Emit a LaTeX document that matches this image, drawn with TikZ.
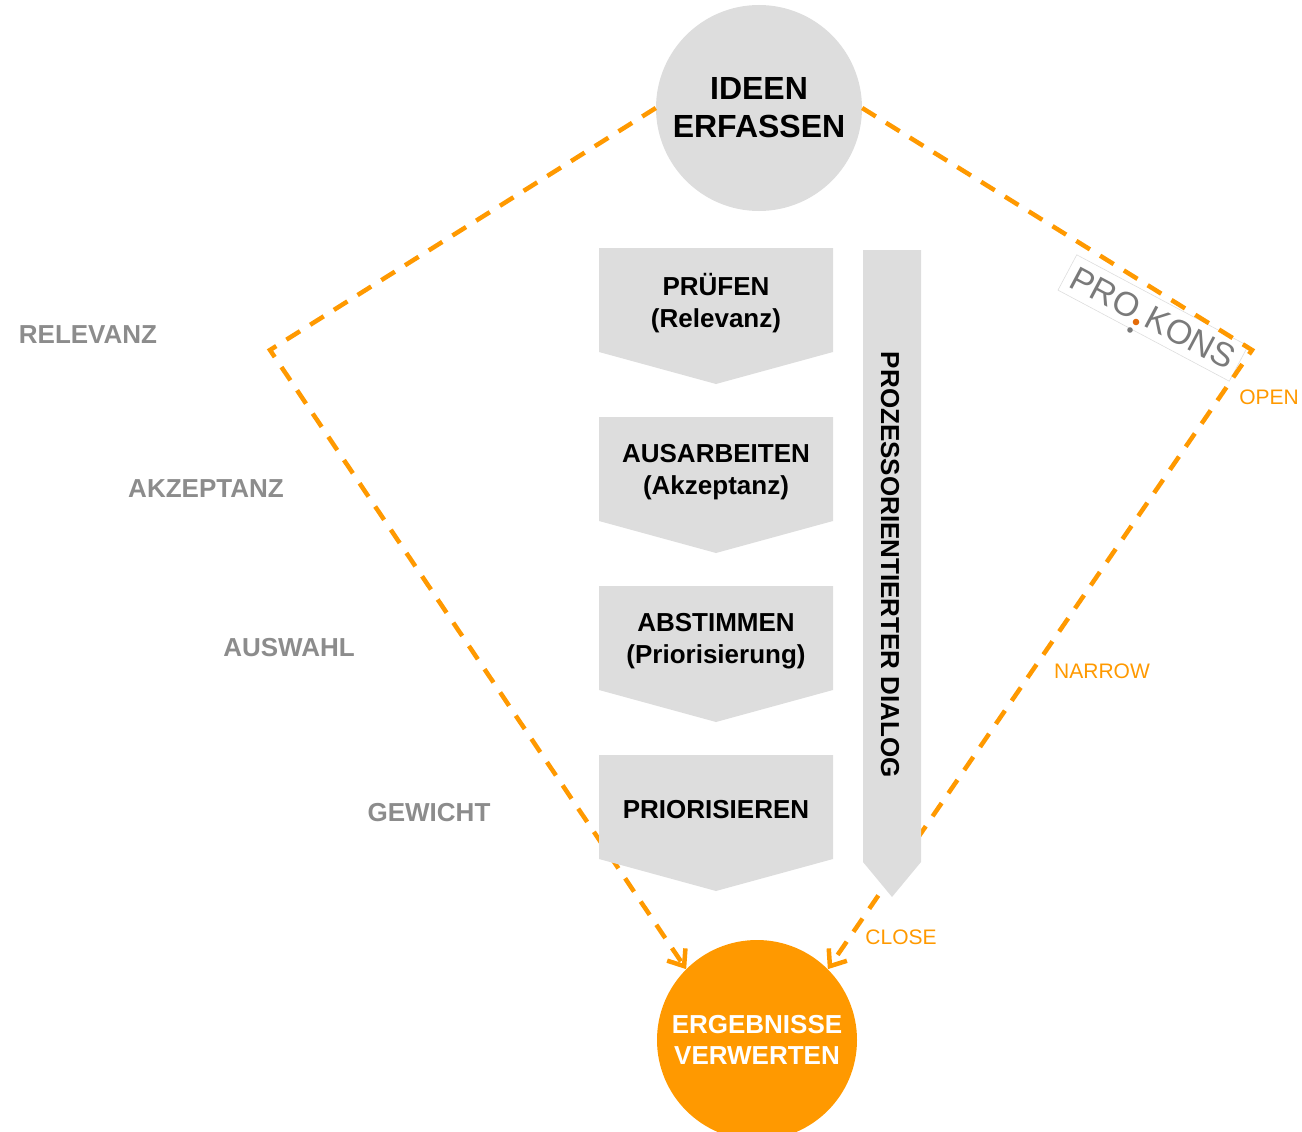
\documentclass[tikz,border=0pt]{standalone}
\usepackage{fontspec}
\setmainfont{Liberation Sans}
\usetikzlibrary{arrows.meta}
\definecolor{kiteorange}{HTML}{FF9900}
\definecolor{boxgray}{HTML}{DDDDDD}
\definecolor{labelgray}{HTML}{8C8C8C}
\definecolor{logogray}{HTML}{7A7A7A}
\definecolor{logoorange}{HTML}{E46C0A}
\tikzset{
  phasecircle/.style={circle, minimum size=#1, inner sep=0pt, align=center},
  stepfont/.style={font=\fontsize{26}{32}\selectfont\bfseries},
  grayword/.style={text=labelgray, font=\fontsize{26}{32}\selectfont\bfseries},
  orangeword/.style={text=kiteorange, font=\fontsize{21}{25}\selectfont},
  kite/.style={draw=kiteorange, line width=4.5pt, dash pattern=on 16pt off 12pt,
    -{Straight Barb[length=14pt,width=22pt]}}
}
\begin{document}
\begin{tikzpicture}[x=1pt,y=-1pt]
            \useasboundingbox (0,0) rectangle (1302,1132);
            \clip (0,0) rectangle (1302,1132);
            \node[phasecircle=206pt, fill=boxgray, font=\fontsize{32}{38}\selectfont\bfseries] (idee) at (759,108) {IDEEN\\ERFASSEN};
            \node[phasecircle=200pt, fill=kiteorange, text=white, font=\fontsize{26}{31}\selectfont\bfseries] (ergebnis) at (757,1040) {ERGEBNISSE\\VERWERTEN};
            % logo, rotated along the open edge
            \node[draw=boxgray, line width=0.6pt, rotate=-28, text=logogray, font=\fontsize{34}{34}\selectfont,
              minimum width=194pt, minimum height=40pt, inner sep=0pt] (logo) at (1153,318)
              {PRO\kern0.3em KONS};
            \fill[logoorange] (1136,322) circle (3.3pt);
            \fill[logogray] (1130,330) circle (2.8pt);
            \coordinate (relcorner) at (270,350);
            \coordinate (opencorner) at (1252,350);
            \draw[kite] (idee.west) -- (relcorner) -- (ergebnis.135);
            \draw[kite] (idee.east) -- (opencorner) -- (ergebnis.45);
            \foreach \i/\txt in {0/{PRÜFEN\\(Relevanz)},1/{AUSARBEITEN\\(Akzeptanz)},2/{ABSTIMMEN\\(Priorisierung)},3/{PRIORISIEREN}} {
                \fill[boxgray] (599,{248+169*\i}) -- ++(234,0) -- ++(0,104) -- ++(-117,32) -- ++(-117,-32) -- cycle;
                \node[stepfont, align=center] (chev\i) at (716,{303+169*\i}) {\txt};
            }
            \fill[boxgray] (863,250) -- (921,250) -- (921,862) -- (892,897) -- (863,862) -- cycle;
            \node[stepfont, rotate=-90] (dialog) at (890,565) {PROZESSORIENTIERTER DIALOG};
            \node[grayword] (relevanz) at (88,335) {RELEVANZ};
            \node[grayword] (akzeptanz) at (206,489) {AKZEPTANZ};
            \node[grayword] (auswahl) at (289,648) {AUSWAHL};
            \node[grayword] (gewicht) at (429,813) {GEWICHT};
            \node[orangeword] (open) at (1269,397) {OPEN};
            \node[orangeword] (narrow) at (1102,671) {NARROW};
            \node[orangeword] (close) at (901,937) {CLOSE};
        \end{tikzpicture}
\end{document}
